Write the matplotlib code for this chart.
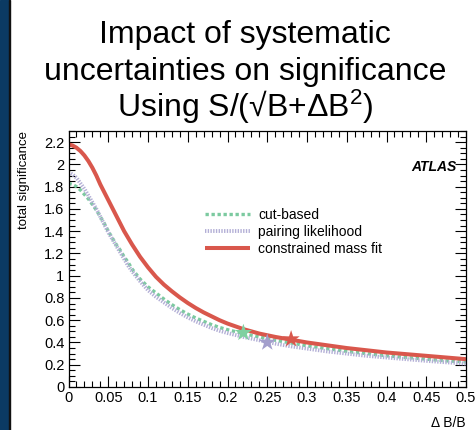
import matplotlib
matplotlib.use("Agg")
import matplotlib.pyplot as plt
from matplotlib.ticker import MultipleLocator
from matplotlib.patches import Rectangle

# ---- data ----
x_vals = [0, 0.005, 0.01, 0.015, 0.02, 0.025, 0.03, 0.035, 0.04, 0.045, 0.05,
          0.055, 0.06, 0.065, 0.07, 0.075, 0.08, 0.09, 0.10, 0.11, 0.12, 0.13,
          0.14, 0.15, 0.16, 0.17, 0.18, 0.19, 0.20, 0.22, 0.24, 0.26, 0.28,
          0.30, 0.325, 0.35, 0.375, 0.40, 0.425, 0.45, 0.475, 0.50]
mass_fit = [2.18, 2.17, 2.15, 2.12, 2.08, 2.03, 1.97, 1.90, 1.82, 1.75, 1.68,
            1.61, 1.54, 1.47, 1.40, 1.34, 1.28, 1.17, 1.075, 0.99, 0.92, 0.86,
            0.805, 0.755, 0.71, 0.67, 0.635, 0.60, 0.57, 0.52, 0.48, 0.45, 0.425,
            0.40, 0.375, 0.35, 0.33, 0.31, 0.295, 0.28, 0.265, 0.25]
cut_based = [1.83, 1.82, 1.80, 1.77, 1.73, 1.69, 1.64, 1.59, 1.53, 1.47, 1.40,
             1.34, 1.28, 1.23, 1.17, 1.12, 1.06, 0.97, 0.90, 0.845, 0.79, 0.74,
             0.695, 0.655, 0.62, 0.59, 0.56, 0.535, 0.515, 0.48, 0.45, 0.42, 0.395,
             0.37, 0.345, 0.32, 0.30, 0.28, 0.265, 0.25, 0.235, 0.225]
pairing = [1.93, 1.91, 1.88, 1.83, 1.78, 1.72, 1.66, 1.60, 1.53, 1.46, 1.39,
           1.33, 1.27, 1.21, 1.15, 1.09, 1.04, 0.95, 0.87, 0.81, 0.76, 0.71,
           0.665, 0.625, 0.59, 0.56, 0.53, 0.505, 0.485, 0.45, 0.42, 0.39, 0.365,
           0.345, 0.32, 0.30, 0.28, 0.265, 0.25, 0.235, 0.222, 0.21]
star_x = [0.22, 0.25, 0.28]
star_y = [0.487, 0.40, 0.43]
labels = ["cut-based", "pairing likelihood", "constrained mass fit"]
title_lines = ["Impact of systematic", "uncertainties on significance",
               "Using S/(\u221aB+\u0394B$^2$)"]

green = "#7ccaa0"
purple = "#b3afd6"
red = "#d9574c"

plt.rcParams['font.family'] = ['Liberation Sans', 'DejaVu Sans']
plt.rcParams['mathtext.fontset'] = 'custom'
plt.rcParams['mathtext.rm'] = 'Liberation Sans'
plt.rcParams['mathtext.it'] = 'Liberation Sans'
plt.rcParams['mathtext.default'] = 'regular'

fig = plt.figure(figsize=(4.76, 4.30), dpi=100)
fig.patches.append(Rectangle((0, 0), 8.5/476, 1, transform=fig.transFigure,
                             color="#0b3a63", zorder=0))
fig.patches.append(Rectangle((8.5/476, 0), 1.3/476, 1, transform=fig.transFigure,
                             color="#111111", zorder=0))

ax = fig.add_axes([68.5/476, 1-387/430, (466-68.5)/476, (387-131)/430])

l1, = ax.plot(x_vals, cut_based, color=green, lw=2.4, linestyle=(0, (1, 0.8)),
              dash_capstyle='butt')
l2, = ax.plot(x_vals, pairing, color=purple, lw=2.8, linestyle=(0, (0.35, 0.35)),
              dash_capstyle='butt')
l3, = ax.plot(x_vals, mass_fit, color=red, lw=2.9, solid_capstyle='butt')

ax.scatter(star_x, star_y, marker='*', s=170, c=["#7fd0a0", "#a39fcc", "#d9574c"],
           edgecolors='none', zorder=5)

ax.set_xlim(0, 0.5)
ax.set_ylim(0, 2.3)
ax.xaxis.set_minor_locator(MultipleLocator(0.01))
ax.yaxis.set_minor_locator(MultipleLocator(0.05))
ax.tick_params(which='both', direction='in', top=True, right=True,
               labelsize=10.5, width=0.8, pad=3)
ax.tick_params(which='major', length=8)
ax.tick_params(which='minor', length=4)

def fmt(v):
    return ("%.2f" % v).rstrip('0').rstrip('.')
ax.set_xticks([i*0.05 for i in range(11)])
ax.set_xticklabels([fmt(i*0.05) for i in range(11)])
ax.set_yticks([i*0.2 for i in range(12)])
ax.set_yticklabels([fmt(i*0.2) for i in range(12)])
for sp in ax.spines.values():
    sp.set_linewidth(0.9)

ax.set_ylabel("total significance", fontsize=9.5, loc='top', labelpad=10)
ax.set_xlabel("\u0394 B/B", fontsize=10, loc='right', labelpad=8)

ax.text(0.975, 0.86, "ATLAS", transform=ax.transAxes, ha='right', va='center',
        fontsize=10, fontweight='bold', fontstyle='italic')

leg = ax.legend([l1, l2, l3], labels, loc='upper left',
                bbox_to_anchor=(0.33, 0.72), frameon=False, fontsize=10,
                handlelength=3.2, handletextpad=0.6, labelspacing=0.2,
                borderaxespad=0)

ys = [1-43/430, 1-80/430, 1-117/430]
for t, y in zip(title_lines, ys):
    fig.text(245/476, y, t, ha='center', va='baseline', fontsize=23)

fig.savefig("out.png", dpi=100)
